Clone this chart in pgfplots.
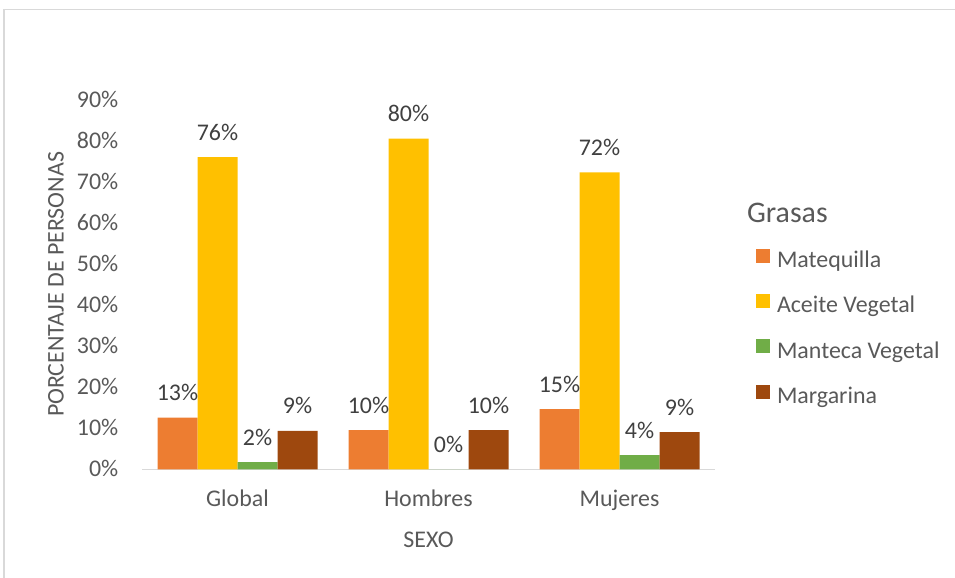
\documentclass[border=0pt]{standalone}
\usepackage{fontspec}
\setmainfont{Carlito}
\usepackage{pgfplots}
\pgfplotsset{compat=1.18}
\definecolor{cOrange}{HTML}{ED7D31}
\definecolor{cYellow}{HTML}{FFC000}
\definecolor{cGreen}{HTML}{70AD47}
\definecolor{cBrown}{HTML}{9E480E}
\definecolor{cText}{HTML}{595959}
\definecolor{cLabel}{HTML}{404040}
\definecolor{cAxis}{HTML}{D9D9D9}
\begin{document}
\begin{tikzpicture}
\useasboundingbox (0,0) rectangle (955bp,578bp);
\draw[color=cAxis, line width=1.3bp] (4bp,0) -- (4bp,568.5bp) -- (955bp,568.5bp);
\begin{axis}[
  at={(142bp,108.5bp)}, anchor=south west,
  scale only axis, width=573bp, height=370bp,
  xmin=-0.5, xmax=2.5, ymin=0, ymax=90,
  ytick={0,10,...,90},
  xtick={0,1,2}, xticklabels={Global,Hombres,Mujeres},
  axis x line*=bottom, axis y line*=left,
  x axis line style={-, draw=cAxis, line width=1.3bp},
  y axis line style={draw=none},
  major tick length=0pt,
  /pgf/number format/assume math mode=true,
  yticklabel={\pgfmathprintnumber{\tick}\%},
  tick label style={font=\fontsize{24}{28}\selectfont, text=cText},
  yticklabel style={anchor=base east, inner sep=0pt, xshift=-23.5bp, yshift=-7.5bp},
  xticklabel style={anchor=base, inner sep=0pt, yshift=-37.5bp},
  ylabel={PORCENTAJE DE PERSONAS},
  xlabel={SEXO},
  every axis y label/.style={at={(axis description cs:-0.150,0.5)}, rotate=90, anchor=center, font=\fontsize{24}{28}\selectfont, text=cText},
  every axis x label/.style={at={(axis description cs:0.5,0)}, anchor=base, yshift=-78bp, font=\fontsize{24}{28}\selectfont, text=cText},
  ybar=0pt, bar width=40bp,
  nodes near coords, point meta=explicit symbolic,
  every node near coord/.append style={font=\fontsize{24}{28}\selectfont, text=cLabel, anchor=base, inner sep=0pt, yshift=17bp},
  legend style={at={(axis description cs:1.0716,0.708)}, anchor=north west, draw=none, fill=none, inner sep=0pt, outer sep=0pt,
    font=\fontsize{24}{28}\selectfont, text=cText, row sep=21.5bp, column sep=-23bp,
    nodes={inner sep=0pt, text height=15bp, text depth=5bp}},
  legend cell align=left,
  legend image code/.code={\fill[#1] (0bp,-0.3bp) rectangle (14bp,13.7bp);},
]
\addlegendimage{empty legend}
\addlegendentry[font=\fontsize{30}{34}\selectfont, xshift=-30bp, yshift=-4bp]{Grasas}
\addplot[fill=cOrange, draw=none] coordinates {(0,12.6) [13\%] (1,9.6) [10\%] (2,14.7) [15\%]};
\addlegendentry{Matequilla}
\addplot[fill=cYellow, draw=none] coordinates {(0,76.0) [76\%] (1,80.5) [80\%] (2,72.3) [72\%]};
\addlegendentry{Aceite Vegetal}
\addplot[fill=cGreen, draw=none] coordinates {(0,1.8) [2\%] (1,0) [0\%] (2,3.5) [4\%]};
\addlegendentry{Manteca Vegetal}
\addplot[fill=cBrown, draw=none] coordinates {(0,9.4) [9\%] (1,9.6) [10\%] (2,9.1) [9\%]};
\addlegendentry{Margarina}
\end{axis}
\end{tikzpicture}
\end{document}
